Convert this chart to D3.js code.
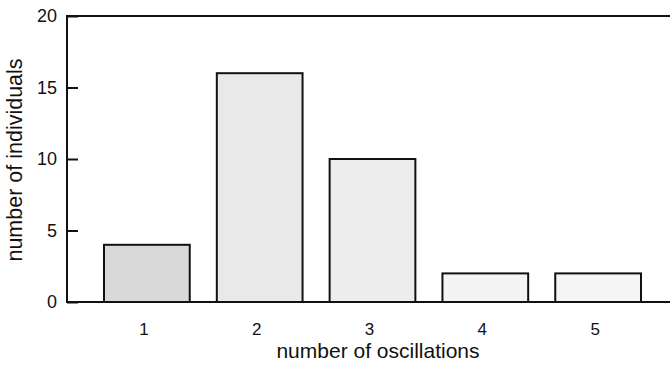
<!DOCTYPE html>
<html>
<head>
<meta charset="utf-8">
<script src="https://cdn.jsdelivr.net/npm/d3@7"></script>
<style>
  body { margin: 0; background: #fff; }
  text { font-family: "Liberation Sans", Arial, sans-serif; fill: #111; }
</style>
</head>
<body>
<script>
// data
let categories = ['1', '2', '3', '4', '5']
let counts = [4, 16, 10, 2, 2]
let yTicks = [0, 5, 10, 15, 20]
let shades = ['#d9d9d9', '#e9e9e9', '#ededed', '#f4f4f4', '#f5f5f5']

{
    let width = 670
    let height = 368
    let left = 67, top = 16, right = 670, bottom = 302

    let svg = d3.select('body').append('svg')
        .attr('width', width)
        .attr('height', height)

    let x = d3.scaleBand()
        .domain(categories)
        .range([104, 641])
        .paddingInner(0.24)
        .paddingOuter(0)

    let y = d3.scaleLinear()
        .domain([0, 20])
        .range([bottom, top])

    // bars
    svg.append('g').selectAll('rect').data(counts)
        .enter()
        .append('rect')
        .attr('x', (d, i) => x(categories[i]))
        .attr('y', d => y(d))
        .attr('width', x.bandwidth())
        .attr('height', d => y(0) - y(d))
        .attr('fill', (d, i) => shades[i])
        .attr('stroke', '#111')
        .attr('stroke-width', 2)

    // frame: left, top, bottom lines
    svg.append('path')
        .attr('d', `M${right},${top}H${left}V${bottom}H${right}`)
        .attr('fill', 'none')
        .attr('stroke', '#111')
        .attr('stroke-width', 2)

    // y axis, ticks pointing inward
    let yAxis = d3.axisRight(y)
        .tickValues(yTicks)
        .tickSize(11)
        .tickFormat(d3.format('d'))
    let gy = svg.append('g')
        .attr('transform', `translate(${left},0)`)
        .call(yAxis)
    gy.select('.domain').remove()
    gy.selectAll('line').attr('stroke', '#111').attr('stroke-width', 2)
    gy.selectAll('text')
        .attr('x', -10)
        .attr('text-anchor', 'end')
        .style('font-size', '18px')
        .style('font-family', '"Liberation Sans", Arial, sans-serif')

    // x axis, labels only
    let xAxis = d3.axisBottom(x).tickSize(0)
    let gx = svg.append('g')
        .attr('transform', `translate(-3,${bottom})`)
        .call(xAxis)
    gx.select('.domain').remove()
    gx.selectAll('text')
        .attr('y', 33)
        .attr('dy', 0)
        .style('font-size', '17px')
        .style('font-family', '"Liberation Sans", Arial, sans-serif')

    svg.append('text')
        .attr('x', 378)
        .attr('y', 358)
        .attr('text-anchor', 'middle')
        .style('font-size', '21px')
        .text('number of oscillations')

    svg.append('text')
        .attr('transform', `translate(22,160) rotate(-90)`)
        .attr('text-anchor', 'middle')
        .style('font-size', '21.5px')
        .text('number of individuals')
}
</script>
</body>
</html>
